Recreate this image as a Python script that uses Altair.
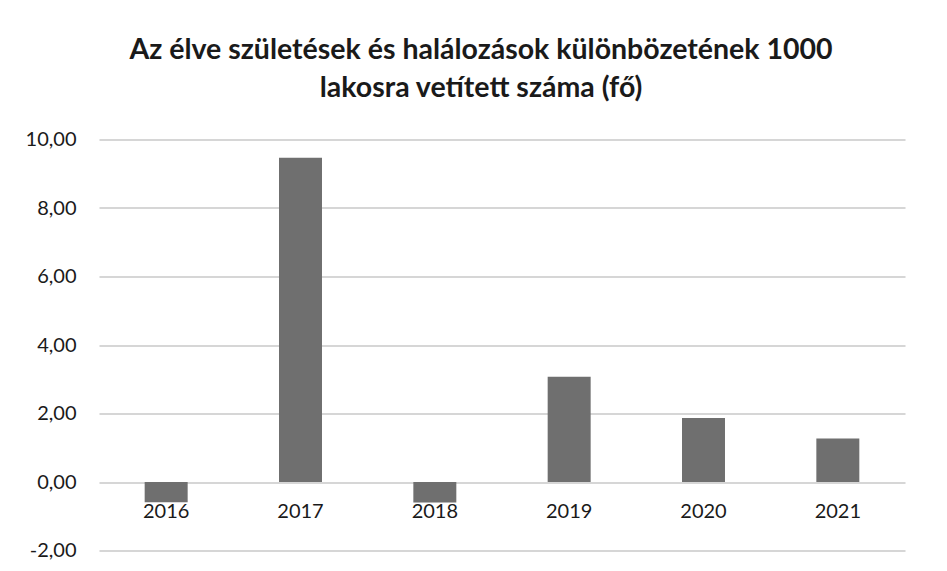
import altair as alt
import pandas as pd

years = ["2016", "2017", "2018", "2019", "2020", "2021"]
values = [-0.59, 9.47, -0.60, 3.07, 1.87, 1.27]

title_lines = ["Az élve születések és halálozások különbözetének 1000",
               "lakosra vetített száma (fő)"]

df = pd.DataFrame({"ev": years, "ertek": values})

FONT = "Lato"

chart = alt.Chart(df).mark_bar(color="#6f6f6f").encode(
    x=alt.X("ev:N", sort=years, title=None,
            scale=alt.Scale(paddingInner=0.68, paddingOuter=0.34),
            axis=alt.Axis(labelAngle=0, domain=False, ticks=False,
                          offset=-69.5, labelPadding=20, labelFontSize=20,
                          labelColor="#1a1a1a", labelFont=FONT, grid=False)),
    y=alt.Y("ertek:Q", title=None,
            scale=alt.Scale(domain=[-2, 10], nice=False, zero=False),
            axis=alt.Axis(values=[-2, 0, 2, 4, 6, 8, 10], domain=False, ticks=False,
                          labelExpr="replace(replace(format(datum.value, '.2f'), '.', ','), '\u2212', '-')",
                          labelPadding=23, labelFontSize=20, labelColor="#1a1a1a",
                          labelFont=FONT, gridColor="#c8c8c8", gridWidth=1.5)),
).properties(
    width=806,
    height=411,
    title=alt.TitleParams(text=title_lines, fontSize=28.5, font=FONT, fontWeight="bold",
                          color="#1a1a1a", anchor="middle", dx=-21, offset=27,
                          lineHeight=38),
    autosize=alt.AutoSizeParams(type="none"),
    padding={"left": 91, "top": 131.5, "right": 34, "bottom": 12},
).configure(background="white", view=alt.ViewConfig(stroke=None))

chart.save("out.html", embed_options={"renderer": "svg", "actions": False})
